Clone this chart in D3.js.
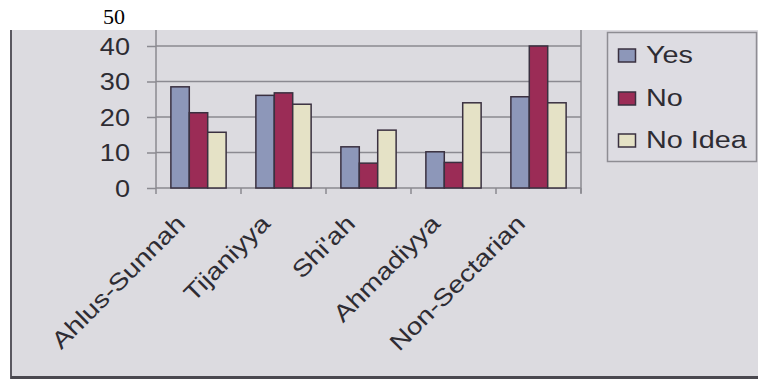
<!DOCTYPE html>
<html>
<head>
<meta charset="utf-8">
<script src="https://cdn.jsdelivr.net/npm/d3@7"></script>
<style>
  html, body { margin: 0; padding: 0; background: #ffffff; }
  svg { display: block; }
</style>
</head>
<body>
<svg id="chart" width="758" height="379"></svg>
<script>
// Survey responses by sect
const categories = ["Ahlus-Sunnah", "Tijaniyya", "Shi'ah", "Ahmadiyya", "Non-Sectarian"];
const seriesNames = ["Yes", "No", "No Idea"];
const yesValues = [28.5, 26.1, 11.6, 10.2, 25.7];
const noValues = [21.2, 26.8, 7.0, 7.2, 40.0];
const noIdeaValues = [15.7, 23.6, 16.3, 24.0, 24.0];
const yTicks = [0, 10, 20, 30, 40, 50];

const seriesValues = [yesValues, noValues, noIdeaValues];
const colors = ["#8d97b9", "#9b2c56", "#e5e2c6"];

const svg = d3.select("#chart");
const W = 758, H = 379;
const panelTop = 30;

// slide panel
svg.append("rect").attr("x", 0).attr("y", 0).attr("width", W).attr("height", H).attr("fill", "#ffffff");
svg.append("rect").attr("x", 11).attr("y", panelTop).attr("width", W - 11).attr("height", H - panelTop)
  .attr("fill", "#dcdbe0");
svg.append("line").attr("x1", 11).attr("x2", 11).attr("y1", panelTop).attr("y2", H)
  .attr("stroke", "#5a5860").attr("stroke-width", 2);
svg.append("line").attr("x1", 11).attr("x2", W).attr("y1", 377.5).attr("y2", 377.5)
  .attr("stroke", "#4a484f").attr("stroke-width", 3);

const plot = { left: 156, right: 581, bottom: 188 };
const y = d3.scaleLinear().domain([0, 50]).range([plot.bottom, 10.5]);
const x0 = d3.scaleBand().domain(categories).range([plot.left, plot.right])
  .paddingInner(0.35).paddingOuter(0.175);
const x1 = d3.scaleBand().domain(seriesNames).range([0, x0.bandwidth()]);

const gridColor = "#8b8a91";

// gridlines (those inside the panel)
svg.append("g").selectAll("line")
  .data(yTicks.filter(t => t > 0 && y(t) > panelTop))
  .join("line")
  .attr("x1", plot.left).attr("x2", plot.right)
  .attr("y1", d => y(d)).attr("y2", d => y(d))
  .attr("stroke", gridColor).attr("stroke-width", 1.5);

// plot frame: right edge
svg.append("line").attr("x1", plot.right).attr("x2", plot.right)
  .attr("y1", panelTop).attr("y2", plot.bottom + 5)
  .attr("stroke", gridColor).attr("stroke-width", 1.5);

// y axis
const yAxis = svg.append("g").attr("transform", `translate(${plot.left},0)`)
  .call(d3.axisLeft(y).tickValues(yTicks).tickSize(9).tickPadding(26));
yAxis.select(".domain").remove();
yAxis.append("line").attr("x1", 0).attr("x2", 0).attr("y1", panelTop).attr("y2", plot.bottom)
  .attr("stroke", gridColor).attr("stroke-width", 1.5);
yAxis.selectAll(".tick line").attr("stroke", gridColor).attr("stroke-width", 1.5)
  .attr("display", d => y(d) < panelTop ? "none" : null);
yAxis.selectAll(".tick text")
  .attr("fill", "#2e2c33")
  .attr("font-family", "Liberation Sans, Arial, sans-serif")
  .attr("font-size", 24)
  .attr("text-anchor", "end")
  .attr("dy", "0.35em")
  .attr("x", null)
  .attr("transform", "translate(-26,0) scale(1.13,1)");
// top label sits on the white band above the panel
yAxis.selectAll(".tick").filter(d => d === 50).select("text")
  .attr("fill", "#000")
  .attr("font-family", "Liberation Serif, Times New Roman, serif")
  .attr("font-size", 22)
  .attr("dy", "0.6em")
  .attr("transform", "translate(-31,0)");

// x axis
svg.append("line").attr("x1", plot.left).attr("x2", plot.right)
  .attr("y1", plot.bottom).attr("y2", plot.bottom)
  .attr("stroke", gridColor).attr("stroke-width", 1.5);
const step = x0.step();
svg.append("g").selectAll("line")
  .data(d3.range(categories.length + 1))
  .join("line")
  .attr("x1", i => plot.left + i * step).attr("x2", i => plot.left + i * step)
  .attr("y1", plot.bottom).attr("y2", plot.bottom + 6)
  .attr("stroke", gridColor).attr("stroke-width", 1.5);

// bars
const groups = svg.append("g").selectAll("g")
  .data(categories)
  .join("g")
  .attr("transform", d => `translate(${x0(d)},0)`);
groups.selectAll("rect")
  .data((c, ci) => seriesNames.map((s, si) => ({ s, si, v: seriesValues[si][ci] })))
  .join("rect")
  .attr("x", d => x1(d.s))
  .attr("y", d => y(d.v))
  .attr("width", x1.bandwidth())
  .attr("height", d => plot.bottom - y(d.v))
  .attr("fill", d => colors[d.si])
  .attr("stroke", "#3a3040")
  .attr("stroke-width", 1.5);

// category labels
svg.append("g").selectAll("text")
  .data(categories)
  .join("text")
  .attr("transform", d => `translate(${x0(d) + x0.bandwidth() / 2 - 12},225) rotate(-45) scale(1.2,1)`)
  .attr("text-anchor", "end")
  .attr("font-family", "Liberation Sans, Arial, sans-serif")
  .attr("font-size", 23.5)
  .attr("fill", "#2e2c33")
  .text(d => d);

// legend
const legend = svg.append("g");
legend.append("rect").attr("x", 607.5).attr("y", 32.5).attr("width", 149).attr("height", 129)
  .attr("fill", "#dddce2").attr("stroke", "#8e8d93").attr("stroke-width", 1.5);
const legendRows = [63, 106, 148];
const items = legend.selectAll("g.item").data(seriesNames).join("g").attr("class", "item");
items.append("rect")
  .attr("x", 618.5).attr("y", (d, i) => legendRows[i] - 14)
  .attr("width", 17).attr("height", 13)
  .attr("fill", (d, i) => colors[i]).attr("stroke", "#3a3040").attr("stroke-width", 1.5);
items.append("text")
  .attr("transform", (d, i) => `translate(646,${legendRows[i]}) scale(1.2,1)`)
  .attr("font-family", "Liberation Sans, Arial, sans-serif")
  .attr("font-size", 24)
  .attr("fill", "#2e2c33")
  .text(d => d);
</script>
</body>
</html>
